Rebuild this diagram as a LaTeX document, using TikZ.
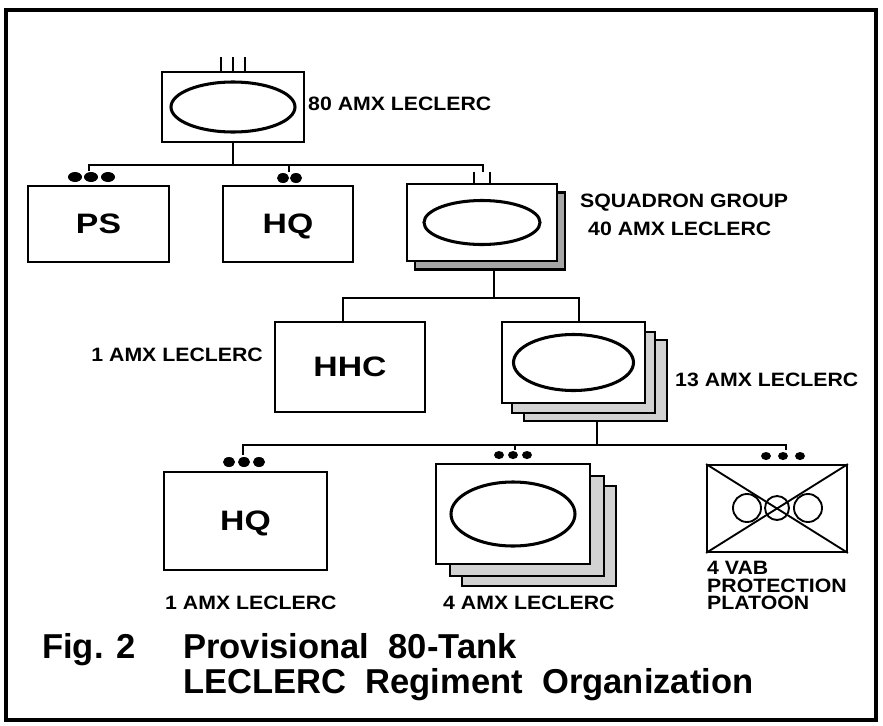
\documentclass[tikz,border=0pt]{standalone}
\usepackage{fontspec}
\setmainfont{Liberation Sans}
\newfontfamily\widefont[FakeStretch=1.1]{Liberation Sans}
\newfontfamily\boxfont[FakeStretch=1.2]{Liberation Sans}
\usetikzlibrary{calc, backgrounds}

\begin{document}
\begin{tikzpicture}[
  x=0.03cm, y=-0.03cm,
  unit/.style={rectangle, draw, line width=1.6pt, fill=white, inner sep=0pt,
               text depth=0pt,
               font=\boxfont\bfseries\fontsize{24}{26}\selectfont},
  layer/.style={rectangle, draw, line width=2.4pt, fill=gray!35, inner sep=0pt},
  lbl/.style={font=\widefont\bfseries\fontsize{16.5}{15}\selectfont,
              inner sep=0pt, anchor=west, align=left},
  ttl/.style={font=\bfseries\fontsize{29.5}{32}\selectfont, inner sep=0pt,
              anchor=base west},
  link/.style={line width=1.6pt},
  armor/.style={line width=2.6pt},
  sqgbox/.style={minimum width=4.5cm, minimum height=2.31cm},
  coybox/.style={minimum width=4.29cm, minimum height=2.43cm},
  pltbox/.style={minimum width=4.62cm, minimum height=3.0cm}
]
  \useasboundingbox (0,0) rectangle (883,726);
  \draw[line width=3.4pt] (6,10) rectangle (876,720);

  %% --- Row 0: Regiment ---
  \node[unit, minimum width=4.26cm, minimum height=2.1cm] (reg) at (233,107) {};
  \draw[armor] (reg.center) ellipse [x radius=62, y radius=25];
  \foreach \tx in {-12,0,12}
    \draw[link] ($(reg.north)+(\tx,0)$) -- ++(0,-14);
  \node[lbl] (regl) at (308,104) {80 AMX LECLERC};

  %% --- Row 1: PS, HQ, Squadron group ---
  \node[unit, minimum width=4.23cm, minimum height=2.28cm] (ps) at (98.5,224) {PS};
  \node[unit, minimum width=3.9cm, minimum height=2.28cm] (hqr) at (288,224) {HQ};
  \node[layer, sqgbox, fill=gray!70] (sqgb) at (490,231) {};
  \node[unit, sqgbox] (sqg) at (482,222.5) {};
  \draw[armor] (sqg.center) ellipse [x radius=58, y radius=22];
  \node[lbl] (sqgl1) at (580,203) {SQUADRON GROUP};
  \node[lbl] (sqgl2) at (588,229) {40 AMX LECLERC};

  % echelon marks
  \foreach \dx in {75,91,108}
    \fill (\dx,177) ellipse [x radius=7, y radius=5];
  \foreach \dx in {283,296}
    \fill (\dx,178) ellipse [x radius=6, y radius=5];
  \foreach \dx in {-8,8}
    \draw[link] ($(sqg.north)+(\dx,0)$) -- ++(0,-11);

  \coordinate (bus1) at (233,165);
  \coordinate (psE)  at (89,171);
  \coordinate (hqrE) at (289,172);
  \coordinate (sqgE) at (483,172);
  \draw[link] (reg.south) -- (bus1);
  \draw[link] (psE) |- (bus1) -| (sqgE);
  \draw[link] (bus1 -| hqrE) -- (hqrE);

  %% --- Row 2: HHC, Squadrons ---
  \node[unit, minimum width=4.5cm, minimum height=2.7cm] (hhc) at (350,367) {HHC};
  \node[lbl, anchor=east] (hhcl) at (263,355) {1 AMX LECLERC};
  \node[layer, coybox] (coyb2) at (595.5,380.5) {};
  \node[layer, coybox] (coyb1) at (583.5,372.5) {};
  \node[unit, coybox] (coy) at (573.5,362.5) {};
  \draw[armor] (coy.center) ellipse [x radius=60, y radius=28];
  \node[lbl] (coyl) at (675,380) {13 AMX LECLERC};

  \coordinate (bus2) at (494,298);
  \coordinate (hhcE) at (343,322);
  \coordinate (coyE) at (579,322);
  \draw[link] (bus2 |- sqgb.south) -- (bus2);
  \draw[link] (hhcE) |- (bus2) -| (coyE);

  %% --- Row 3: HQ, Platoons, VAB ---
  \node[unit, minimum width=4.89cm, minimum height=2.94cm] (hqp) at (245.5,521) {HQ};
  \node[lbl] (hqpl) at (165,603) {1 AMX LECLERC};
  \node[layer, pltbox] (pltb2) at (539,536) {};
  \node[layer, pltbox] (pltb1) at (527,526) {};
  \node[unit, pltbox] (plt) at (513,514) {};
  \draw[armor] (plt.center) ellipse [x radius=62, y radius=32];
  \node[lbl] (pltl) at (443,603) {4 AMX LECLERC};
  \node[unit, minimum width=4.2cm, minimum height=2.61cm] (vab) at (777,508.5) {};
  \draw[link] (vab.north west) -- (vab.south east);
  \draw[link] (vab.north east) -- (vab.south west);
  \draw[link] (747,508) circle [radius=14];
  \draw[link] (777,508) circle [radius=12];
  \draw[link] (808,508) circle [radius=14];
  \node[lbl, anchor=north west] (vabl) at (707,561) {4 VAB\\PROTECTION\\PLATOON};

  % echelon marks
  \foreach \dx in {229,244,259}
    \fill (\dx,462) ellipse [x radius=6, y radius=5];
  \foreach \dx in {499,513,527}
    \fill (\dx,455) ellipse [x radius=5, y radius=4];
  \foreach \dx in {766,783,800}
    \fill (\dx,456) ellipse [x radius=5, y radius=4];

  \coordinate (bus3) at (597,445);
  \coordinate (hqpE) at (243,455);
  \coordinate (pltE) at (515,450);
  \coordinate (vabE) at (786,450);
  \draw[link] (bus3 |- coyb2.south) -- (bus3);
  \draw[link] (hqpE) |- (bus3) -| (vabE);
  \draw[link] (bus3 -| pltE) -- (pltE);

  %% --- Caption ---
  \node[ttl] (fig)  at (42,658)  {Fig. 2};
  \node[ttl] (cap1) at (183,658) {Provisional\ \ 80-Tank};
  \node[ttl] (cap2) at (183,693) {LECLERC\ \ Regiment\ \ Organization};
\end{tikzpicture}
\end{document}
